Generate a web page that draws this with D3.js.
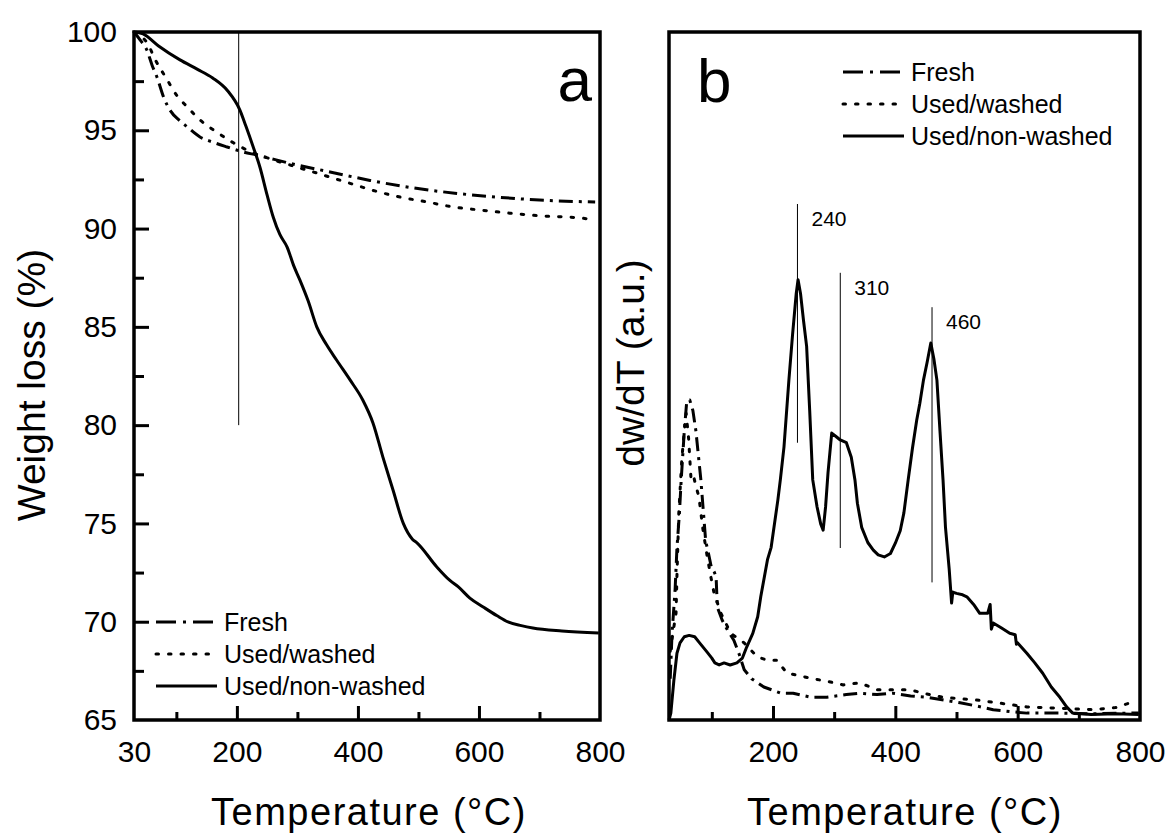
<!DOCTYPE html>
<html>
<head>
<meta charset="utf-8">
<script src="https://cdn.jsdelivr.net/npm/d3@7"></script>
<style>
  body { margin: 0; background: #fff; }
  svg { display: block; font-family: "Liberation Sans", Arial, sans-serif; }
  .frame { fill: none; stroke: #000; stroke-width: 3.5; }
  .tick line { stroke: #000; stroke-width: 3; }
  .domain { display: none; }
  .tick text { font-size: 30px; fill: #000; }
  .data { fill: none; stroke: #000; stroke-width: 3; stroke-linejoin: round; }
  .ref { stroke: #000; stroke-width: 1; }
</style>
</head>
<body>
<div id="chart"></div>
<script>
// ---- data ----
const seriesNames = ["Fresh", "Used/washed", "Used/non-washed"];

// panel a: weight (%) vs temperature
const tgaFresh = [[30,100],[40,99.6],[51,99.1],[60,98.3],[68,97.7],[80,96.6],[90,96.0],[105,95.5],[118,95.17],[139,94.66],[160,94.4],[184,94.15],[210,93.9],[233,93.74],[290,93.3],[354,92.88],[420,92.45],[491,92.07],[560,91.8],[630,91.6],[700,91.45],[792,91.35]];
const tgaWashed = [[30,100],[40,99.8],[52,99.44],[65,98.6],[85,97.56],[100,96.8],[118,96.19],[140,95.5],[167,94.9],[195,94.35],[227,93.85],[260,93.5],[299,93.13],[340,92.75],[387,92.3],[430,91.9],[470,91.6],[515,91.35],[557,91.1],[600,90.95],[646,90.8],[700,90.65],[767,90.54],[790,90.45]];
const tgaNonWashed = [[30,100],[45,99.9],[70,99.3],[106,98.58],[135,98.1],[160,97.66],[185,97.0],[205,96.03],[215,95.2],[227,94.15],[238,93.13],[250,91.7],[260,90.59],[271,89.7],[283,89.06],[294,88.1],[304,87.39],[318,86.3],[332,85.0],[348,84.1],[365,83.3],[387,82.3],[408,81.28],[425,80.1],[441,78.4],[458,76.7],[475,75.0],[490,74.2],[498,74.0],[530,72.8],[552,72.1],[566,71.77],[585,71.2],[607,70.75],[630,70.3],[648,69.99],[670,69.8],[689,69.68],[737,69.53],[798,69.43]];

// panel b: dw/dT (a.u.) vs temperature
const dtgFresh = [[32,6],[35,12.6],[40,19],[43,25],[47,30],[50,35],[55,42],[59,46.3],[64,46.5],[69,45],[74,42],[78,38.5],[82,35],[86,30.5],[90,26],[95,24],[99,22.3],[104,21.5],[107,20.8],[109,16.4],[117,14.5],[126,13],[136,11.6],[145,9.5],[153,7.3],[165,6],[185,4.8],[213,3.9],[233,3.9],[262,3.3],[288,3.3],[320,3.7],[342,3.9],[370,3.7],[396,3.9],[425,3.5],[451,3.3],[480,2.9],[506,2.5],[535,2.0],[560,1.5],[590,1.2],[615,1.0],[669,1.0],[720,0.9],[779,1.0],[798,1.0]];
const dtgWashed = [[32,10],[37,13],[41.5,15.5],[43,21],[46,30],[51,38],[55,42],[58,44.6],[62,41],[66,35],[70,35.5],[74,34],[79,32.4],[85,28],[92,24],[98,21],[103.5,18.5],[115,15.5],[131,12.6],[153,11.2],[174,9.2],[190,8.7],[206,8.7],[223,6.8],[240,6.5],[260,6.1],[290,5.6],[315,5.1],[342,5.4],[370,4.4],[400,4.4],[424,4.4],[450,3.8],[478,3.3],[505,3.1],[533,2.9],[575,2.4],[615,1.9],[670,1.7],[723,1.5],[760,1.8],[784,2.5]];
const dtgNonWashed = [[30,0],[33,1],[38,5.8],[43,9.7],[48,11.2],[55,12.1],[63,12.3],[72,12.1],[80,11.2],[92,9.9],[100,9.0],[105,8.3],[112,8.0],[120,8.3],[130,8.0],[141,8.3],[150,9.0],[157,10.6],[167,12.6],[175,15],[180,17.9],[191,23.3],[197,25.1],[208,32],[212,34.9],[218,39.7],[226,49.4],[232,56],[238,62],[241,64],[245,62],[250,58],[255,54.3],[260,45],[265,34.9],[272,31],[278,28.5],[282,27.6],[286,31],[290,36],[296,41.7],[303,41.2],[310,40.7],[320,40.3],[328,38.2],[334,34.9],[338,31.5],[345,28],[355,25.8],[364,24.7],[372,24],[382,23.7],[392,24.2],[400,25.7],[408,27.5],[414,30.1],[421,34.9],[428,39.5],[435,43.6],[440,46],[446,49.4],[452,52],[458,54.8],[463,52.5],[468,49.4],[473,42],[478,34.9],[482,28],[488,22],[492,17],[494,18.6],[500,18.4],[510,18.2],[517,17.9],[528,16.8],[538,15.5],[551,15.5],[555,16.8],[557,13.2],[560,14.1],[573,13.4],[587,12.6],[596,12.4],[598,11.0],[600,11.2],[615,9.7],[628,8.3],[641,6.8],[655,4.8],[669,3.3],[680,1.9],[690,1.0],[720,0.8],[760,0.9],[798,0.8]];

// peak markers in panel b: temperature, top and bottom of the line
const peakTemps = [240, 310, 460];
const peakTops = [75, 65, 60];
const peakBottoms = [40.3, 25, 20];

// vertical marker in panel a
const markerA = [203, 100, 80];

const xTicksA = [30, 200, 400, 600, 800];
const yTicksA = [65, 70, 75, 80, 85, 90, 95, 100];
const xTicksB = [200, 400, 600, 800];

// ---- svg ----
const W = 1168, H = 836;
const svg = d3.select("#chart").append("svg")
    .attr("width", W).attr("height", H);
svg.append("rect").attr("width", W).attr("height", H).attr("fill", "#fff");

const dashes = ["14,6,3,6", "2.5,10", null];

const xA = d3.scaleLinear().domain([30, 800]).range([134, 600]);
const yA = d3.scaleLinear().domain([65, 100]).range([720, 32]);
const xB = d3.scaleLinear().domain([30, 800]).range([669, 1140]);
const yB = d3.scaleLinear().domain([0, 100]).range([720, 32]);

function frame(x, y) {
    svg.append("rect").attr("class", "frame")
        .attr("x", x.range()[0]).attr("y", y.range()[1])
        .attr("width", x.range()[1] - x.range()[0])
        .attr("height", y.range()[0] - y.range()[1]);
}

function xAxis(x, y, labels) {
    const g = svg.append("g").attr("transform", `translate(0,${y.range()[0]})`);
    g.append("g").call(d3.axisBottom(x).tickValues([200, 400, 600]).tickSize(-14).tickFormat(""));
    g.append("g").call(d3.axisBottom(x).tickValues([100, 300, 500, 700]).tickSize(-8).tickFormat(""));
    g.append("g").call(d3.axisBottom(x).tickValues(labels).tickSize(0).tickPadding(21).tickFormat(d3.format("d")));
}

// --- panel a ---
frame(xA, yA);
xAxis(xA, yA, xTicksA);
const gy = svg.append("g").attr("transform", `translate(${xA.range()[0]},0)`);
gy.append("g").call(d3.axisLeft(yA).tickValues([70, 75, 80, 85, 90, 95]).tickSize(-15).tickFormat(""));
gy.append("g").call(d3.axisLeft(yA).tickValues([67.5, 72.5, 77.5, 82.5, 87.5, 92.5, 97.5]).tickSize(-10).tickFormat(""));
gy.append("g").call(d3.axisLeft(yA).tickValues(yTicksA).tickSize(0).tickPadding(17).tickFormat(d3.format("d")));

svg.append("line").attr("class", "ref")
    .attr("x1", xA(markerA[0])).attr("x2", xA(markerA[0]))
    .attr("y1", yA(markerA[1])).attr("y2", yA(markerA[2]));

const lineA = d3.line().x(d => xA(d[0])).y(d => yA(d[1])).curve(d3.curveMonotoneX);
[tgaFresh, tgaWashed, tgaNonWashed].forEach((s, i) => {
    svg.append("path").attr("class", "data").attr("d", lineA(s))
        .attr("stroke-dasharray", dashes[i])
        .attr("stroke-linecap", i === 1 ? "round" : "butt");
});

svg.append("text").attr("x", 592).attr("y", 101).attr("text-anchor", "end")
    .attr("font-size", 62).text("a");

// --- panel b ---
frame(xB, yB);
xAxis(xB, yB, xTicksB);

const lineB = d3.line().x(d => xB(d[0])).y(d => yB(d[1]));
[dtgFresh, dtgWashed, dtgNonWashed].forEach((s, i) => {
    svg.append("path").attr("class", "data").attr("d", lineB(s))
        .attr("stroke-dasharray", dashes[i])
        .attr("stroke-linecap", i === 1 ? "round" : "butt");
});

peakTemps.forEach((t, i) => {
    svg.append("line").attr("class", "ref")
        .attr("x1", xB(t)).attr("x2", xB(t))
        .attr("y1", yB(peakTops[i])).attr("y2", yB(peakBottoms[i]));
    svg.append("text").attr("x", xB(t) + 14).attr("y", yB(peakTops[i]) + 22)
        .attr("font-size", 21).text(t);
});

svg.append("text").attr("x", 697).attr("y", 102).attr("font-size", 62).text("b");

// --- legends ---
function legend(x0, y0) {
    seriesNames.forEach((name, i) => {
        const y = y0 + i * 32;
        svg.append("line").attr("class", "data")
            .attr("x1", x0).attr("x2", x0 + 61).attr("y1", y).attr("y2", y)
            .attr("stroke-dasharray", i === 0 ? "20,7,3,7" : dashes[i])
            .attr("stroke-linecap", i === 1 ? "round" : "butt");
        svg.append("text").attr("x", x0 + 68).attr("y", y).attr("dy", "0.35em")
            .attr("font-size", 25).text(name);
    });
}
legend(156, 622);
legend(843, 72);

// --- axis titles ---
svg.append("text").attr("x", 369).attr("y", 825).attr("text-anchor", "middle")
    .attr("font-size", 38).attr("letter-spacing", 1.5).text("Temperature (°C)");
svg.append("text").attr("x", 905).attr("y", 825).attr("text-anchor", "middle")
    .attr("font-size", 38).attr("letter-spacing", 1.5).text("Temperature (°C)");
svg.append("text").attr("transform", "translate(45,385) rotate(-90)")
    .attr("text-anchor", "middle").attr("font-size", 39).text("Weight loss (%)");
svg.append("text").attr("transform", "translate(644,363) rotate(-90)")
    .attr("text-anchor", "middle").attr("font-size", 39).text("dw/dT (a.u.)");
</script>
</body>
</html>
